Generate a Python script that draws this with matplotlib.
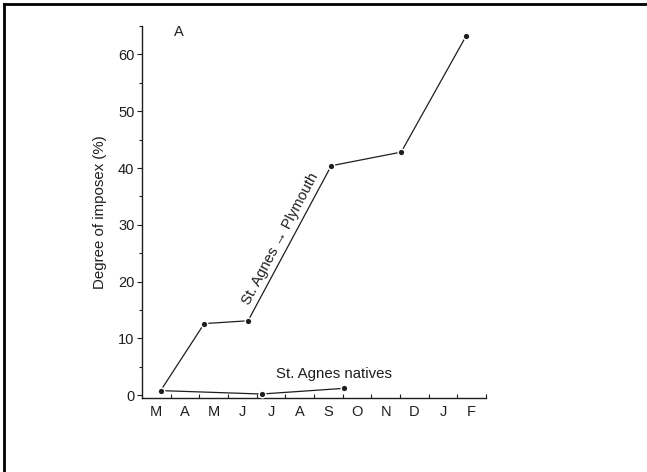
import matplotlib
matplotlib.use('Agg')
import matplotlib.pyplot as plt
from matplotlib.lines import Line2D
from matplotlib.ticker import MultipleLocator, FixedLocator

plt.rcParams['font.family'] = ['Liberation Sans', 'DejaVu Sans']

# month axis (March to February)
months = ['M', 'A', 'M', 'J', 'J', 'A', 'S', 'O', 'N', 'D', 'J', 'F']

# St. Agnes -> Plymouth transplants
plymouth_x = [0.15, 1.67, 3.2, 6.1, 8.54, 10.8]
plymouth_y = [0.8, 12.6, 13.1, 40.4, 42.8, 63.2]

# St. Agnes natives
natives_x = [0.15, 3.67, 6.55]
natives_y = [0.8, 0.2, 1.2]

ink = '#1e1e1e'

fig = plt.figure(figsize=(6.47, 4.72), dpi=100)
ax = fig.add_axes([0.2195, 0.1568, 0.5317, 0.788])

for xs, ys in [(plymouth_x, plymouth_y), (natives_x, natives_y)]:
    ax.plot(xs, ys, '-', color=ink, lw=0.9, marker='o', ms=4.8,
            mfc=ink, mec='white', mew=1.0, clip_on=False, zorder=3)

ax.set_xlim(-0.5, 11.5)
ax.set_ylim(-0.5, 65)

ax.set_xticks(range(len(months)))
ax.set_xticklabels(months)
ax.xaxis.set_minor_locator(FixedLocator([i + 0.5 for i in range(len(months))]))
ax.tick_params(axis='x', which='major', length=0, pad=5, labelsize=10.5, colors=ink)
ax.tick_params(axis='x', which='minor', direction='in', length=3, width=0.8, color=ink)

ax.yaxis.set_major_locator(MultipleLocator(10))
ax.yaxis.set_minor_locator(MultipleLocator(5))
ax.tick_params(axis='y', which='major', direction='out', length=3.5, width=0.8,
               pad=2, labelsize=10.5, colors=ink)
ax.tick_params(axis='y', which='minor', direction='out', length=2.5, width=0.8, color=ink)
ax.set_yticks(range(0, 61, 10))

for side in ['top', 'right']:
    ax.spines[side].set_visible(False)
for side in ['left', 'bottom']:
    ax.spines[side].set_color(ink)
    ax.spines[side].set_linewidth(1.0)

ax.set_ylabel('Degree of imposex (%)', fontsize=10.8, color=ink, labelpad=8)

ax.text(0.77, 64, 'A', fontsize=10.5, color=ink, ha='center', va='center')
ax.text(4.31, 27.5, 'St. Agnes \u2192 Plymouth', fontsize=10.5, color=ink,
        rotation=62, ha='center', va='center', rotation_mode='anchor')
ax.text(6.2, 3.7, 'St. Agnes natives', fontsize=10.8, color=ink,
        ha='center', va='center')

# scan frame: top and left edges
fig.add_artist(Line2D([0.006, 1.0], [0.991, 0.991], color='black', lw=2.0,
                      transform=fig.transFigure))
fig.add_artist(Line2D([0.0065, 0.0065], [0.0, 0.991], color='black', lw=2.0,
                      transform=fig.transFigure))

fig.savefig('out.png', dpi=100)
